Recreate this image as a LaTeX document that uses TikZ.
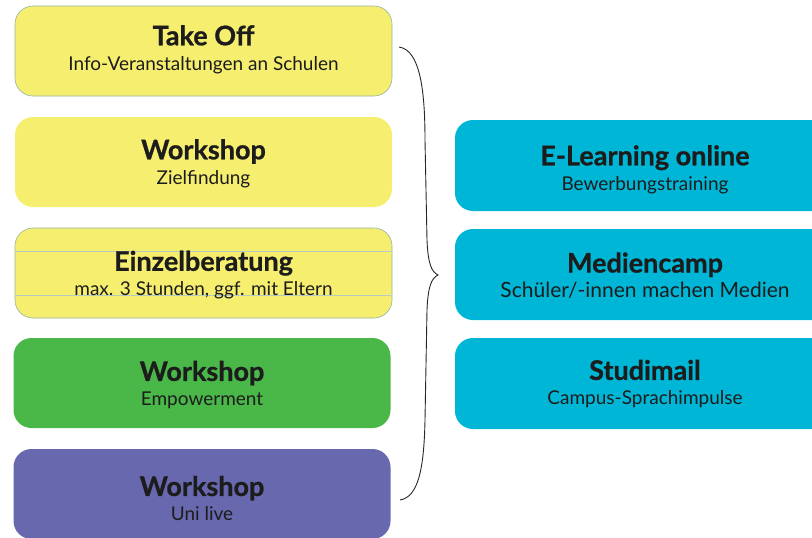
\documentclass[tikz,border=0pt]{standalone}
\usepackage{fontspec}
\setmainfont{Lato}
\definecolor{boxyellow}{HTML}{F6EE6E}
\definecolor{boxgreen}{HTML}{4AB848}
\definecolor{boxpurple}{HTML}{6868AF}
\definecolor{boxcyan}{HTML}{00B6D6}
\definecolor{edgegray}{HTML}{93B3A8}
\definecolor{txt}{HTML}{1C1C1C}
\newcommand{\ttl}[1]{{\fontsize{27}{25}\selectfont\bfseries\addfontfeature{FakeBold=0.8}#1}}
\newcommand{\sub}[1]{{\fontsize{19}{25}\selectfont #1}}
\newcommand{\subL}[1]{{\fontsize{21}{25}\selectfont #1}}
\begin{document}
\begin{tikzpicture}[x=1pt,y=-1pt,
  boxbase/.style={rectangle, rounded corners=18pt, minimum width=377pt, minimum height=90pt, inner sep=0pt},
  yelbox/.style={boxbase, fill=boxyellow, draw=edgegray, line width=0.6pt},
  grnbox/.style={boxbase, fill=boxgreen},
  purbox/.style={boxbase, fill=boxpurple},
  cyanbox/.style={boxbase, fill=boxcyan, minimum width=380pt, minimum height=91pt},
  lbl/.style={inner sep=0pt, align=center, text=txt, font=\fontsize{19}{25}\selectfont},
  bracepath/.style={draw=black!85, line width=0.9pt}
]
\useasboundingbox (0,0) rectangle (812,538);
\clip (0,0) rectangle (812,538);
\node[yelbox] (takeoff) at (203.5,51) {};
\node[yelbox, draw=none] (ziel) at (203.5,162) {};
\node[yelbox] (einzel) at (203.5,273) {};
\draw[edgegray!70, line width=0.4pt] (16,251.5) -- (391,251.5) (16,295) -- (391,295);
\node[grnbox] (empower) at (202,383) {};
\node[purbox] (unilive) at (202,494) {};
\node[cyanbox] (elearn) at (645,165.5) {};
\node[cyanbox] (medien) at (645,274.5) {};
\node[cyanbox] (studi) at (645,383.5) {};
\node[lbl] (takeoffT) at ([yshift=1.5pt]takeoff.center) {\ttl{Take Off}\\\sub{Info-Veranstaltungen an Schulen}};
\node[lbl] (zielT) at ([yshift=-1.5pt]ziel.center) {\ttl{Workshop}\\\sub{Zielfindung}};
\node[lbl] (einzelT) at ([yshift=-2pt]einzel.center) {\ttl{Einzelberatung}\\\sub{max. 3 Stunden, ggf. mit Eltern}};
\node[lbl] (empowerT) at ([yshift=-2pt]empower.center) {\ttl{Workshop}\\\sub{Empowerment}};
\node[lbl] (uniliveT) at ([yshift=-4.5pt]unilive.center) {\ttl{Workshop}\\\sub{Uni live}};
\node[lbl] (elearnT) at ([yshift=-4pt]elearn.center) {\ttl{E-Learning online}\\\sub{Bewerbungstraining}};
\node[lbl] (medienT) at ([yshift=-1pt]medien.center) {\ttl{Mediencamp}\\\subL{Schüler/-innen machen Medien}};
\node[lbl] (studiT) at ([yshift=-0.5pt]studi.center) {\ttl{Studimail}\\\sub{Campus-Sprachimpulse}};
\coordinate (btop) at (399,47);
\coordinate (btip) at (438,275);
\coordinate (bbot) at (400,500);
\draw[bracepath] (btop) .. controls (420,50) and (425,90) .. (425,140) -- (427,240) .. controls (428,265) and (432,272) .. (btip) .. controls (432,278) and (428,285) .. (427,310) -- (425,420) .. controls (424,470) and (418,497) .. (bbot);
\end{tikzpicture}
\end{document}
